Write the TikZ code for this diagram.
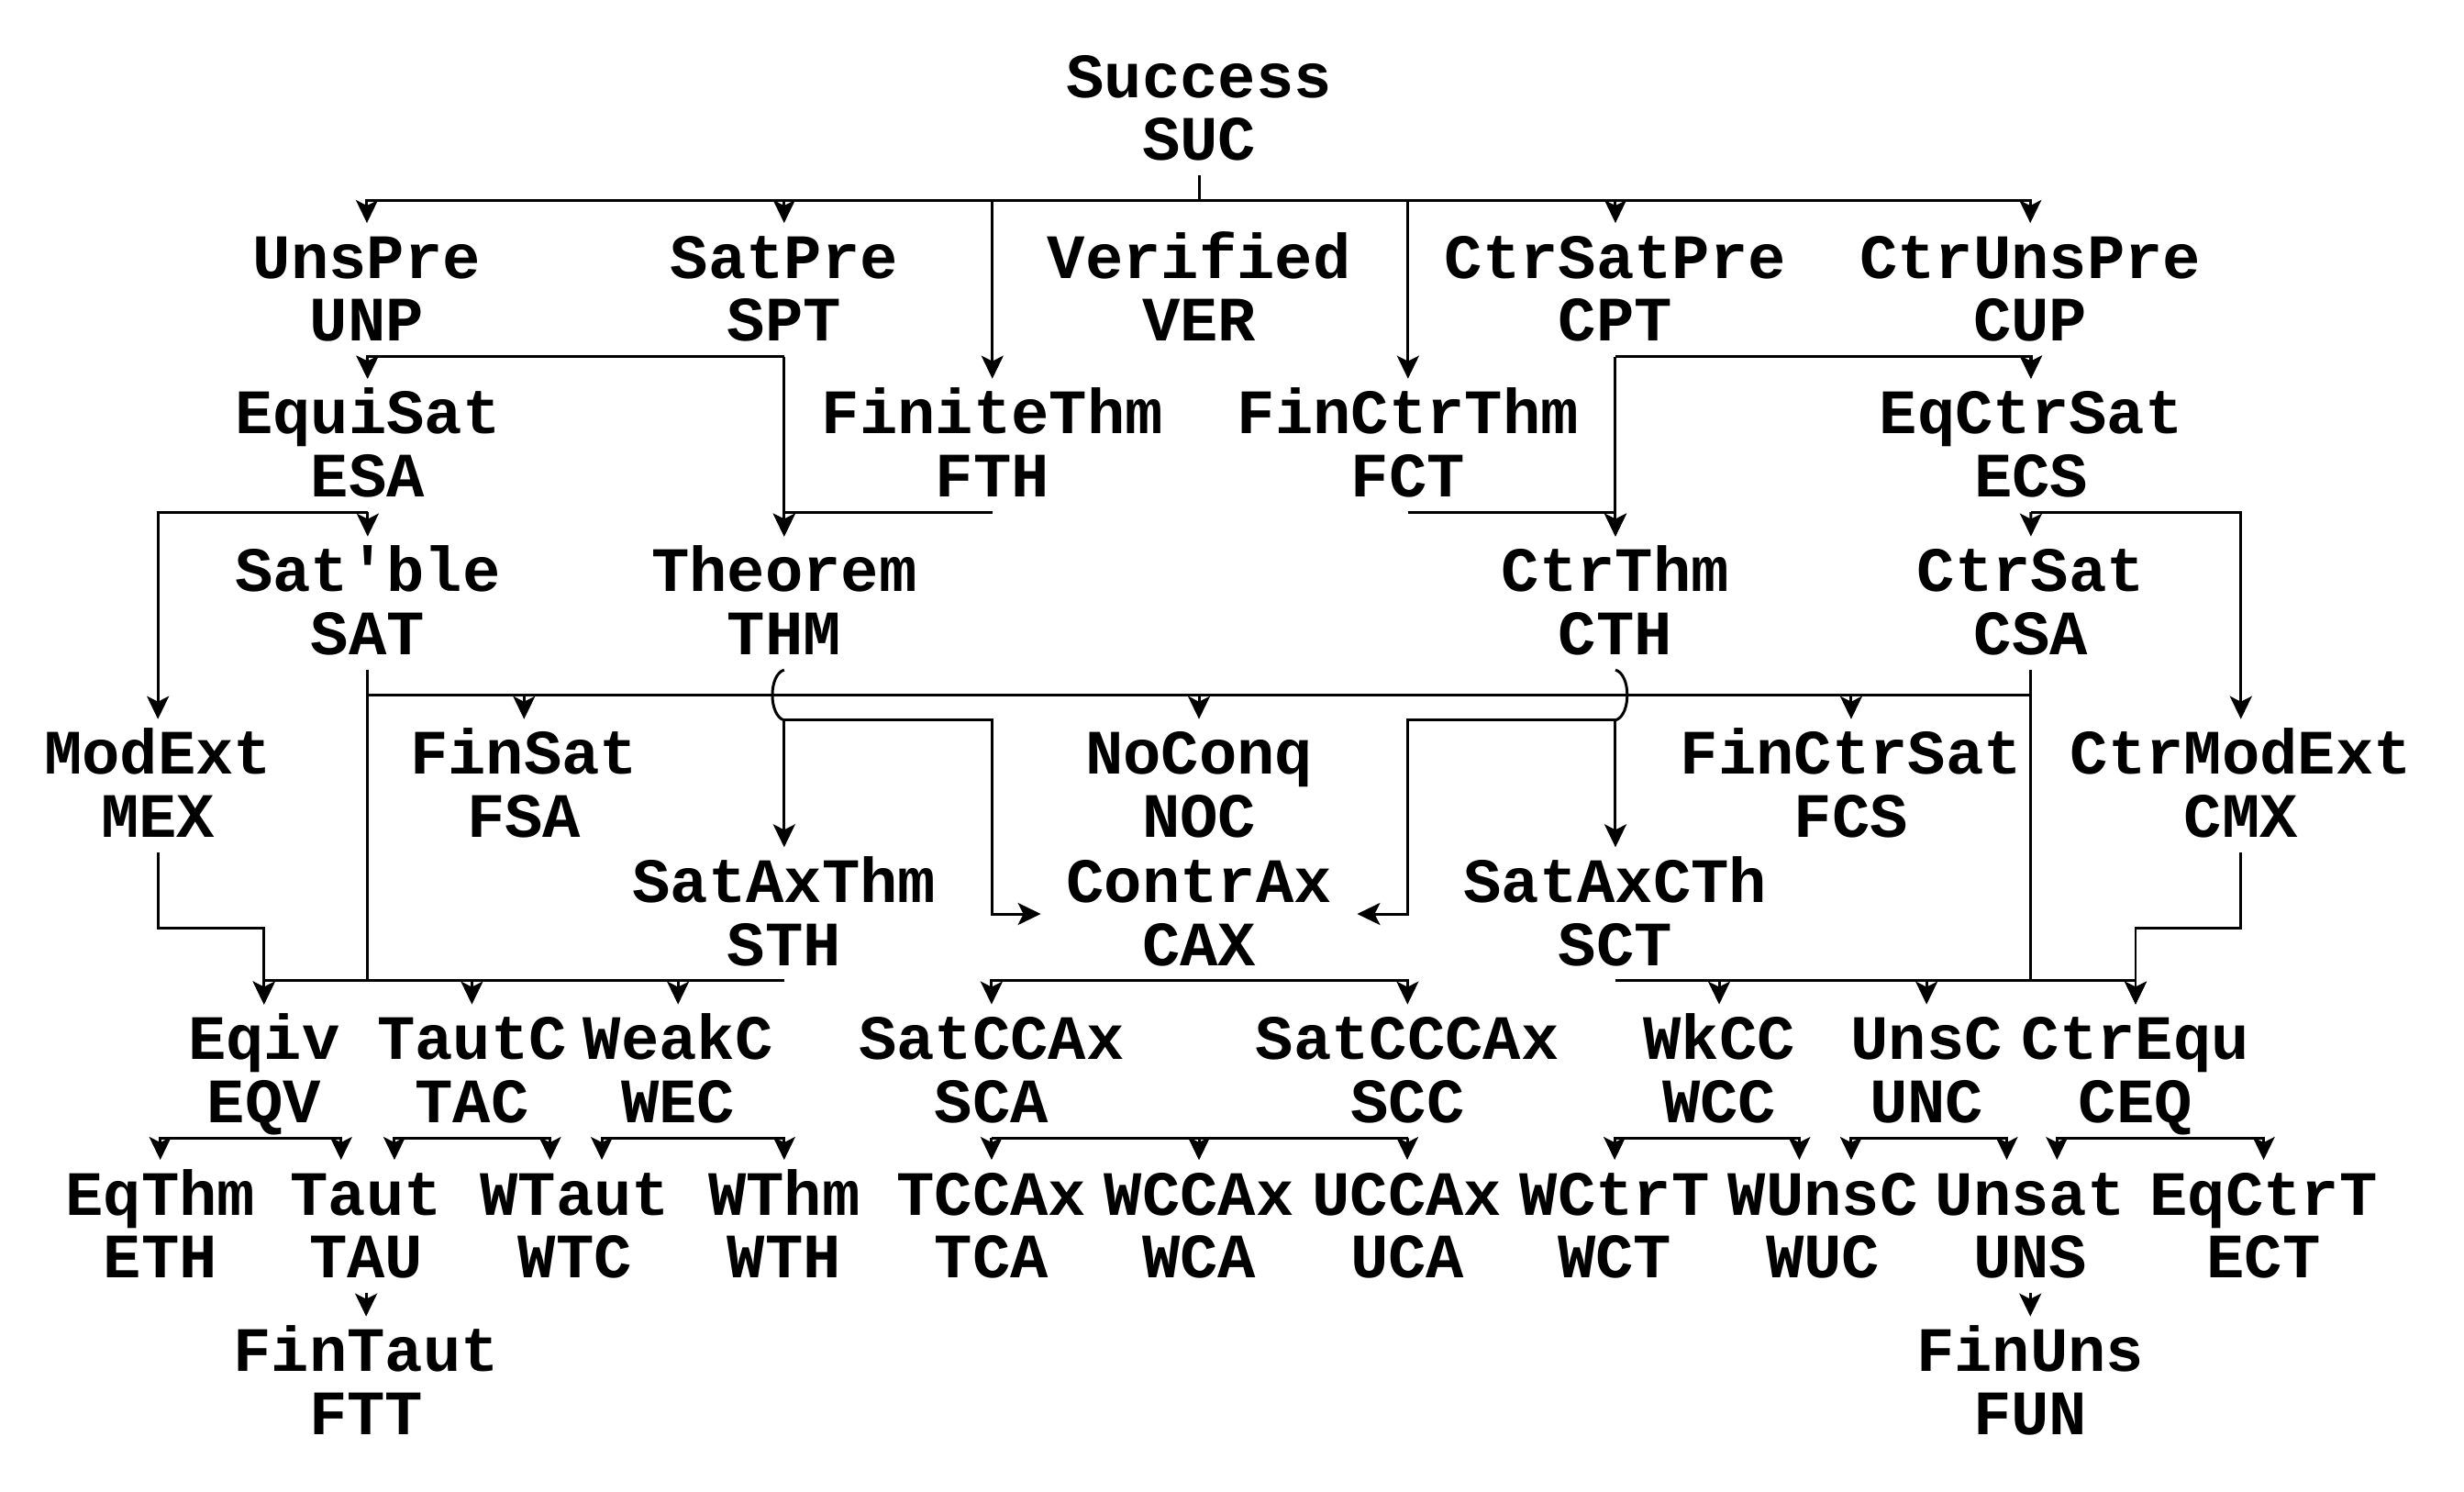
\documentclass[tikz,border=0pt]{standalone}
\usepackage{fontspec}
\setmonofont{Liberation Mono}
\usetikzlibrary{arrows.meta,calc}
\begin{document}
\begin{tikzpicture}[x=0.1713mm,y=-0.1713mm,
  t/.style={align=center,font=\ttfamily\bfseries\fontsize{19.6pt}{19.5pt}\selectfont,
    anchor=north,inner xsep=2.7mm,inner ysep=0pt,text height=12.8mm,text depth=1.6mm},
  f/.style={-{Stealth[length=2.5mm,width=2.4mm,inset=0.6mm]},line width=.85pt},
  ln/.style={line width=.85pt}]
\useasboundingbox (0,0) rectangle (1568,949);
\node[t] (SUC) at (763,26.8) {Success\\SUC};
\node[t] (UNP) at (233.5,141.9) {UnsPre\\UNP};
\node[t] (SPT) at (499,141.9) {SatPre\\SPT};
\node[t] (VER) at (763,141.9) {Verified\\VER};
\node[t] (CPT) at (1028,141.9) {CtrSatPre\\CPT};
\node[t] (CUP) at (1292,141.9) {CtrUnsPre\\CUP};
\node[t] (ESA) at (234,240.9) {EquiSat\\ESA};
\node[t] (FTH) at (631.5,240.9) {FiniteThm\\FTH};
\node[t] (FCT) at (896,240.9) {FinCtrThm\\FCT};
\node[t] (ECS) at (1292.5,240.9) {EqCtrSat\\ECS};
\node[t] (SAT) at (234,341.3) {Sat'ble\\SAT};
\node[t] (THM) at (499,341.3) {Theorem\\THM};
\node[t] (CTH) at (1028,341.3) {CtrThm\\CTH};
\node[t] (CSA) at (1292.3,341.3) {CtrSat\\CSA};
\node[t] (MEX) at (100.5,457.5) {ModExt\\MEX};
\node[t] (FSA) at (333.5,457.5) {FinSat\\FSA};
\node[t] (NOC) at (763,457.5) {NoConq\\NOC};
\node[t] (FCS) at (1178,457.5) {FinCtrSat\\FCS};
\node[t] (CMX) at (1426,457.5) {CtrModExt\\CMX};
\node[t] (STH) at (499,539) {SatAxThm\\STH};
\node[t] (CAX) at (763,539) {ContrAx\\CAX};
\node[t] (SCT) at (1028,539) {SatAxCTh\\SCT};
\node[t] (EQV) at (168,639) {Eqiv\\EQV};
\node[t] (TAC) at (300.3,639) {TautC\\TAC};
\node[t] (WEC) at (431.5,639) {WeakC\\WEC};
\node[t] (SCA) at (631,639) {SatCCAx\\SCA};
\node[t] (SCC) at (895.7,639) {SatCCCAx\\SCC};
\node[t] (WCC) at (1094,639) {WkCC\\WCC};
\node[t] (UNC) at (1226,639) {UnsC\\UNC};
\node[t] (CEQ) at (1359,639) {CtrEqu\\CEQ};
\node[t] (ETH) at (102,737.9) {EqThm\\ETH};
\node[t] (TAU) at (233,737.9) {Taut\\TAU};
\node[t] (WTC) at (366,737.9) {WTaut\\WTC};
\node[t] (WTH) at (499,737.9) {WThm\\WTH};
\node[t] (TCA) at (631,737.9) {TCCAx\\TCA};
\node[t] (WCA) at (763,737.9) {WCCAx\\WCA};
\node[t] (UCA) at (895.5,737.9) {UCCAx\\UCA};
\node[t] (WCT) at (1027.5,737.9) {WCtrT\\WCT};
\node[t] (WUC) at (1160,737.9) {WUnsC\\WUC};
\node[t] (UNS) at (1292,737.9) {Unsat\\UNS};
\node[t] (ECT) at (1440.5,737.9) {EqCtrT\\ECT};
\node[t] (FTT) at (233,837.5) {FinTaut\\FTT};
\node[t] (FUN) at (1292,837.5) {FinUns\\FUN};
\coordinate (sucbus) at ($(SUC.south)+(0,16)$);
\coordinate (satbus) at ($(SAT.south)+(0,16)$);
\coordinate (csabus) at ($(CSA.south)+(0,16)$);
\coordinate (thmhop) at ($(THM.south)+(0,32)$);
\coordinate (cthhop) at ($(CTH.south)+(0,32)$);
\draw[ln] (SUC.south)--(sucbus);
\draw[f] (sucbus) -| (UNP.north);
\draw[f] (sucbus) -| (SPT.north);
\draw[f] (sucbus) -| (FTH.north);
\draw[f] (sucbus) -| (FCT.north);
\draw[f] (sucbus) -| (CPT.north);
\draw[f] (sucbus) -| (CUP.north);
\draw[f] (UNP)--(ESA);
\draw[f] (SPT.south) -| (ESA.north);
\draw[f] (SPT)--(THM);
\draw[f] (FTH.south) -| (THM.north);
\draw[f] (CUP)--(ECS);
\draw[f] (CPT.south) -| (ECS.north);
\draw[f] (CPT)--(CTH);
\draw[f] (FCT.south) -| (CTH.north);
\draw[f] (ESA)--(SAT);
\draw[f] (ESA.south) -| (MEX.north);
\draw[f] (ECS)--(CSA);
\draw[f] (ECS.south) -| (CMX.north);
\draw[ln] (SAT.south)--(SAT.south |- STH.south);
\draw[ln] (CSA.south)--(CSA.south |- SCT.south);
\draw[ln] (satbus)--(csabus);
\draw[f] (satbus) -| (FSA.north);
\draw[f] (satbus) -| (NOC.north);
\draw[f] (csabus) -| (FCS.north);
\draw[ln] (THM.south) .. controls +(-10,3) and +(-10,-3) .. (thmhop);
\draw[ln] (CTH.south) .. controls +(10,3) and +(10,-3) .. (cthhop);
\draw[f] (thmhop)--(STH.north);
\draw[f] (thmhop) -| (FTH.south |- CAX.west)--(CAX.west);
\draw[f] (cthhop)--(SCT.north);
\draw[f] (cthhop) -| (FCT.south |- CAX.east)--(CAX.east);
\draw[f] (MEX.south) |- ($(MEX.south)!.5!(EQV.north)$) -| (EQV.north);
\draw[f] (CMX.south) |- ($(CMX.south)!.5!(CEQ.north)$) -| (CEQ.north);
\draw[f] (STH.south) -| (EQV.north);
\draw[f] (STH.south) -| (TAC.north);
\draw[f] (STH.south) -| (WEC.north);
\draw[f] (CAX.south) -| (SCA.north);
\draw[f] (CAX.south) -| (SCC.north);
\draw[f] (SCT.south) -| (WCC.north);
\draw[f] (SCT.south) -| (UNC.north);
\draw[f] (SCT.south) -| (CEQ.north);
\draw[f] (EQV.south) -| (ETH.north);
\draw[f] (EQV.south) -| ($(TAU.north)+(-16,0)$);
\draw[f] (TAC.south) -| ($(TAU.north)+(18,0)$);
\draw[f] (TAC.south) -| ($(WTC.north)+(-16,0)$);
\draw[f] (WEC.south) -| ($(WTC.north)+(17,0)$);
\draw[f] (WEC.south) -| (WTH.north);
\draw[f] (SCA.south) -| (TCA.north);
\draw[f] (SCA.south) -| (WCA.north);
\draw[f] (SCC.south) -| (WCA.north);
\draw[f] (SCC.south) -| (UCA.north);
\draw[f] (WCC.south) -| (WCT.north);
\draw[f] (WCC.south) -| ($(WUC.north)+(-15,0)$);
\draw[f] (UNC.south) -| ($(WUC.north)+(18,0)$);
\draw[f] (UNC.south) -| ($(UNS.north)+(-15,0)$);
\draw[f] (CEQ.south) -| ($(UNS.north)+(17,0)$);
\draw[f] (CEQ.south) -| (ECT.north);
\draw[f] (TAU)--(FTT);
\draw[f] (UNS)--(FUN);
\end{tikzpicture}
\end{document}
